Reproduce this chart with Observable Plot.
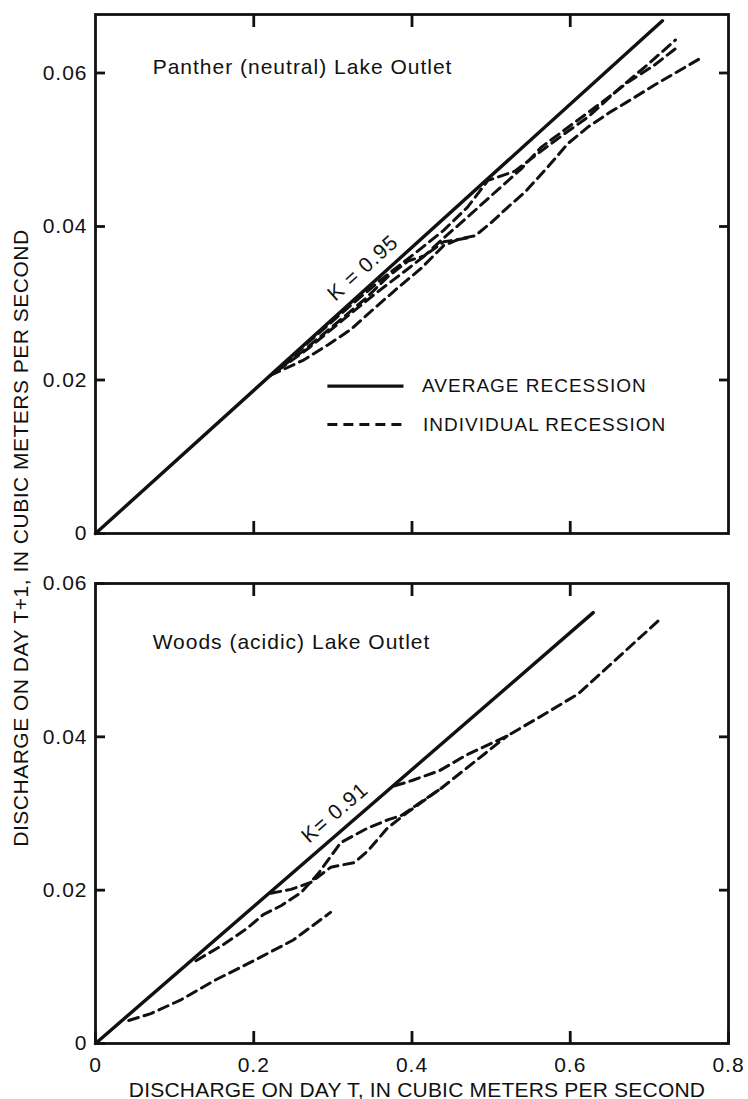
<!DOCTYPE html>
<html><head><meta charset="utf-8">
<script src="https://cdn.jsdelivr.net/npm/d3@7"></script>
<script src="https://cdn.jsdelivr.net/npm/@observablehq/plot@0.6"></script>
<style>
body{margin:0;background:#fff;}
#wrap{position:relative;width:748px;height:1099px;font-family:"Liberation Sans",Arial,sans-serif;color:#111;overflow:hidden;}
#top,#bot{position:absolute;left:0;}
#top{top:0}
#bot{top:545px}
svg{overflow:visible}
svg text{letter-spacing:1px}
.lab{position:absolute;white-space:nowrap;font-size:21px;line-height:1;}
#ylab{left:20px;top:538px;transform:translate(-50%,-50%) rotate(-90deg);letter-spacing:0.5px;}
#xlab{left:417px;top:1089px;transform:translate(-50%,-50%);letter-spacing:0.2px;}
</style></head>
<body><div id="wrap"><div id="top"></div><div id="bot"></div>
<div class="lab" id="ylab">DISCHARGE ON DAY T+1, IN CUBIC METERS PER SECOND</div>
<div class="lab" id="xlab">DISCHARGE ON DAY T, IN CUBIC METERS PER SECOND</div>
</div>
<script>
// ---- tick values and labels ----
const xTicks = [0, 0.2, 0.4, 0.6, 0.8];
const xTickLabels = ["0", "0.2", "0.4", "0.6", "0.8"];
const yTicks = [0, 0.02, 0.04, 0.06];
const yTickLabels = ["0", "0.02", "0.04", "0.06"];

// ---- Panther (neutral) Lake Outlet ----
const pantherAverage = [[0, 0], [0.7165, 0.0668]];
const pantherInd1 = [[0.221,0.0206],[0.27,0.0250],[0.32,0.0295],[0.36,0.0330],[0.40,0.0362],[0.44,0.0395],[0.47,0.0425],[0.496,0.0460],[0.53,0.0472],[0.559,0.0495],[0.593,0.0521],[0.623,0.0543],[0.66,0.0578],[0.699,0.0612],[0.733,0.0643]];
const pantherInd2 = [[0.221,0.0206],[0.26,0.0236],[0.30,0.0270],[0.34,0.0305],[0.37,0.0335],[0.395,0.0355],[0.416,0.0362],[0.44,0.0385],[0.47,0.0412],[0.50,0.0440],[0.538,0.0475],[0.563,0.0503],[0.597,0.0529],[0.618,0.0545],[0.648,0.0568],[0.673,0.0588],[0.706,0.0610],[0.736,0.0634]];
const pantherInd3 = [[0.221,0.0206],[0.238,0.0214],[0.263,0.0226],[0.294,0.0246],[0.323,0.0266],[0.352,0.0293],[0.382,0.0320],[0.411,0.0345],[0.44,0.0375],[0.46,0.0384],[0.48,0.0388],[0.50,0.0405],[0.521,0.0425],[0.543,0.0445],[0.572,0.0478],[0.597,0.0508],[0.623,0.0530],[0.652,0.0550],[0.673,0.0563],[0.706,0.0584],[0.766,0.0620]];
const pantherInd4 = [[0.23,0.0212],[0.27,0.0242],[0.31,0.0276],[0.353,0.0312],[0.395,0.0345],[0.42,0.0365],[0.44,0.0380],[0.476,0.0386]];
const pantherTitle = {label: "Panther (neutral) Lake Outlet", x: 0.0722, y: 0.0607};
const pantherK = {label: "K = 0.95", x: 0.338, y: 0.0346, angle: -42};

// ---- Woods (acidic) Lake Outlet ----
const woodsAverage = [[0, 0], [0.629, 0.0562]];
const woodsInd1 = [[0.378,0.0336],[0.40,0.0343],[0.435,0.0356],[0.47,0.0377],[0.52,0.0401],[0.56,0.0425],[0.61,0.0456],[0.66,0.0503],[0.711,0.0551]];
const woodsInd2 = [[0.127,0.0108],[0.16,0.0128],[0.19,0.0149],[0.212,0.0168],[0.235,0.0180],[0.26,0.0197],[0.281,0.0221],[0.31,0.0262],[0.344,0.0281],[0.37,0.0292],[0.386,0.0297],[0.437,0.0333],[0.492,0.0378],[0.52,0.0401]];
const woodsInd3 = [[0.2215,0.0196],[0.247,0.0201],[0.272,0.0210],[0.2975,0.0230],[0.327,0.0236],[0.344,0.0251],[0.369,0.0281],[0.395,0.0302],[0.437,0.0333]];
const woodsInd4 = [[0.042,0.0030],[0.07,0.0039],[0.108,0.0057],[0.15,0.0082],[0.2,0.0108],[0.25,0.0135],[0.297,0.0171]];
const woodsTitle = {label: "Woods (acidic) Lake Outlet", x: 0.0722, y: 0.0523};
const woodsK = {label: "K= 0.91", x: 0.3025, y: 0.0301, angle: -41};

// ---- legend (top panel) ----
const legendItems = ["AVERAGE RECESSION", "INDIVIDUAL RECESSION"];
const legendLineX = [0.2937, 0.3899];
const legendY = [0.0192, 0.0142];
const legendTextX = [0.4127, 0.4140];

const INK = "#111";
const fmt = (ticks, labels) => d => { const i = ticks.findIndex(t => Math.abs(t - d) < 1e-9); return i < 0 ? "" : labels[i]; };
const toRows = (lines) => lines.flatMap((pts, id) => pts.map(([x, y]) => ({x, y, id})));

function panel({height, marginTop, marginBottom, yMax, avg, inds, title, k, legend, xLabels}) {
  const innerX = xTicks.filter(t => t > 0 && t < 0.8);
  const innerY = yTicks.filter(t => t > 0 && t < yMax - 1e-9);
  const marks = [
    Plot.frame({stroke: INK, strokeWidth: 2.8}),
    Plot.axisY(yTicks, {anchor: "left", tickSize: -10, tickPadding: 18, tickFormat: fmt(yTicks, yTickLabels), label: null, stroke: INK, strokeWidth: 2.8, fontSize: 21, fill: INK}),
    Plot.axisY(innerY, {anchor: "right", tickSize: -10, tickFormat: () => "", label: null, stroke: INK, strokeWidth: 2.8}),
    Plot.axisX(innerX, {anchor: "top", tickSize: -12, tickFormat: () => "", label: null, stroke: INK, strokeWidth: 2.8}),
    xLabels
      ? Plot.axisX(xTicks, {anchor: "bottom", tickSize: -12, tickPadding: 26, tickFormat: fmt(xTicks, xTickLabels), label: null, stroke: INK, strokeWidth: 2.8, fontSize: 21, fill: INK})
      : Plot.axisX(innerX, {anchor: "bottom", tickSize: -12, tickFormat: () => "", label: null, stroke: INK, strokeWidth: 2.8}),
    Plot.line(toRows(inds), {x: "x", y: "y", z: "id", stroke: INK, strokeWidth: 3, strokeDasharray: "10,6", curve: "linear"}),
    Plot.line(avg, {x: d => d[0], y: d => d[1], stroke: INK, strokeWidth: 3.4}),
    Plot.text([title], {x: "x", y: "y", text: "label", textAnchor: "start", lineAnchor: "middle", fontSize: 21, fill: INK}),
    Plot.text([k], {x: "x", y: "y", text: "label", rotate: k.angle, textAnchor: "middle", lineAnchor: "middle", fontSize: 21, fill: INK})
  ];
  if (legend) {
    const rows = legendItems.map((label, i) => ({label, i, x1: legendLineX[0], x2: legendLineX[1], y: legendY[i], tx: legendTextX[i]}));
    marks.push(
      Plot.ruleY(rows.filter(r => r.i === 0), {y: "y", x1: "x1", x2: "x2", stroke: INK, strokeWidth: 3.4}),
      Plot.ruleY(rows.filter(r => r.i === 1), {y: "y", x1: "x1", x2: "x2", stroke: INK, strokeWidth: 3, strokeDasharray: "10,6"}),
      Plot.text(rows, {x: "tx", y: "y", text: "label", textAnchor: "start", lineAnchor: "middle", fontSize: 19, fill: INK})
    );
  }
  return Plot.plot({
    width: 748, height, marginLeft: 95, marginRight: 20, marginTop, marginBottom,
    x: {domain: [0, 0.8]},
    y: {domain: [0, yMax]},
    style: {fontFamily: "'Liberation Sans', Arial, sans-serif", fontSize: "21px", color: INK, background: "#fff"},
    marks
  });
}

document.getElementById("top").append(panel({
  height: 545, marginTop: 14, marginBottom: 12, yMax: 0.06762,
  avg: pantherAverage, inds: [pantherInd1, pantherInd2, pantherInd3, pantherInd4],
  title: pantherTitle, k: pantherK, legend: true, xLabels: false
}));
document.getElementById("bot").append(panel({
  height: 554, marginTop: 38, marginBottom: 56, yMax: 0.06,
  avg: woodsAverage, inds: [woodsInd1, woodsInd2, woodsInd3, woodsInd4],
  title: woodsTitle, k: woodsK, legend: false, xLabels: true
}));
</script>
</body></html>
